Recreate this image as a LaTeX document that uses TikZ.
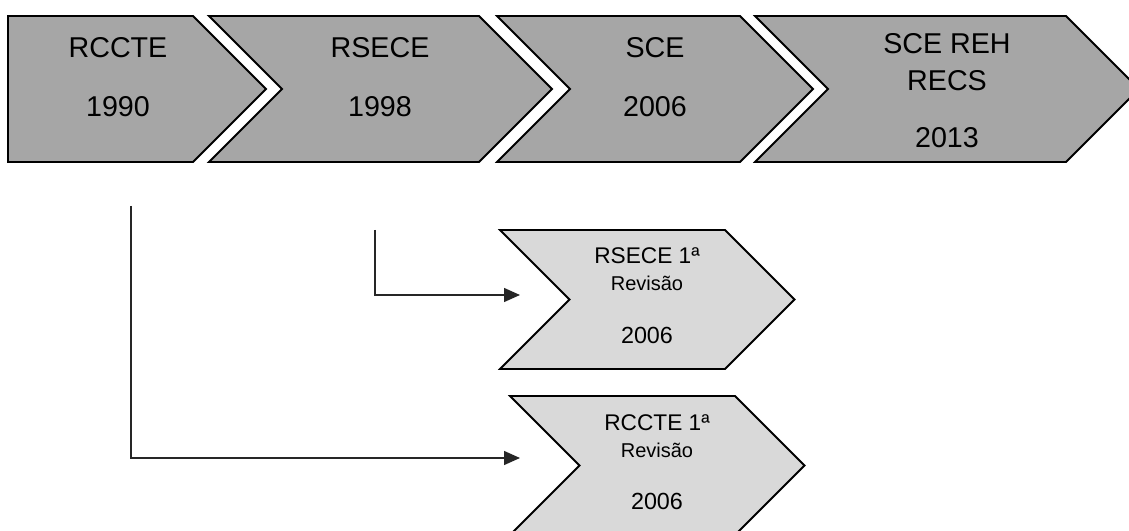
\documentclass[tikz,border=0pt]{standalone}
\usepackage{fontspec}
\setmainfont{Liberation Sans}
\usetikzlibrary{arrows.meta}
\definecolor{topgray}{HTML}{A6A6A6}
\definecolor{subgray}{HTML}{D9D9D9}
\begin{document}
\begin{tikzpicture}[x=0.75pt,y=-0.75pt,
  topbox/.style={draw=black, fill=topgray, line width=1.4pt, line join=miter},
  subbox/.style={draw=black, fill=subgray, line width=1.4pt, line join=miter},
  toptxt/.style={anchor=base, inner sep=0pt, font=\fontsize{21.5}{24}\selectfont},
  subname/.style={anchor=base, inner sep=0pt, font=\fontsize{17}{20}\selectfont},
  subrev/.style={anchor=base, inner sep=0pt, font=\fontsize{15}{18}\selectfont},
  subyear/.style={anchor=base, inner sep=0pt, font=\fontsize{17.5}{20}\selectfont},
  link/.style={draw=black!85, line width=1pt, -{Triangle[length=12pt, width=10.5pt]}}
]
\useasboundingbox (0,0) rectangle (1129,531);
\clip (0,0) rectangle (1129,531);
\fill[white] (0,0) rectangle (1129,531);

% top timeline
\draw[topbox] (8,16) -- (193,16) -- (266,89) -- (193,162) -- (8,162) -- cycle;
\draw[topbox] (209,16) -- (479,16) -- (552,89) -- (479,162) -- (209,162) -- (282,89) -- cycle;
\draw[topbox] (497,16) -- (740,16) -- (813,89) -- (740,162) -- (497,162) -- (570,89) -- cycle;
\draw[topbox] (755,16) -- (1066,16) -- (1139,89) -- (1066,162) -- (755,162) -- (828,89) -- cycle;

\node[toptxt] (t1a) at (118,58) {RCCTE};
\node[toptxt] (t1b) at (118,117) {1990};
\node[toptxt] (t2a) at (380,58) {RSECE};
\node[toptxt] (t2b) at (380,117) {1998};
\node[toptxt] (t3a) at (655,58) {SCE};
\node[toptxt] (t3b) at (655,117) {2006};
\node[toptxt] (t4a) at (947,54) {SCE REH};
\node[toptxt] (t4b) at (947,91) {RECS};
\node[toptxt] (t4c) at (947,148) {2013};

% revisions
\draw[subbox] (500,230) -- (725,230) -- (794.5,299.5) -- (725,369) -- (500,369) -- (569.5,299.5) -- cycle;
\draw[subbox] (510,396) -- (735,396) -- (804.5,465.5) -- (735,535) -- (510,535) -- (579.5,465.5) -- cycle;

\node[subname] (sa1) at (647,264) {RSECE 1ª};
\node[subrev]  (sa2) at (647,291) {Revisão};
\node[subyear] (sa3) at (647,343) {2006};
\node[subname] (sb1) at (657,430) {RCCTE 1ª};
\node[subrev]  (sb2) at (657,457) {Revisão};
\node[subyear] (sb3) at (657,509) {2006};

% connectors
\coordinate (c1) at (375,230);
\coordinate (e1) at (520,295);
\coordinate (c2) at (131,206);
\coordinate (e2) at (520,458);
\draw[link] (c1) |- (e1);
\draw[link] (c2) |- (e2);
\end{tikzpicture}
\end{document}
